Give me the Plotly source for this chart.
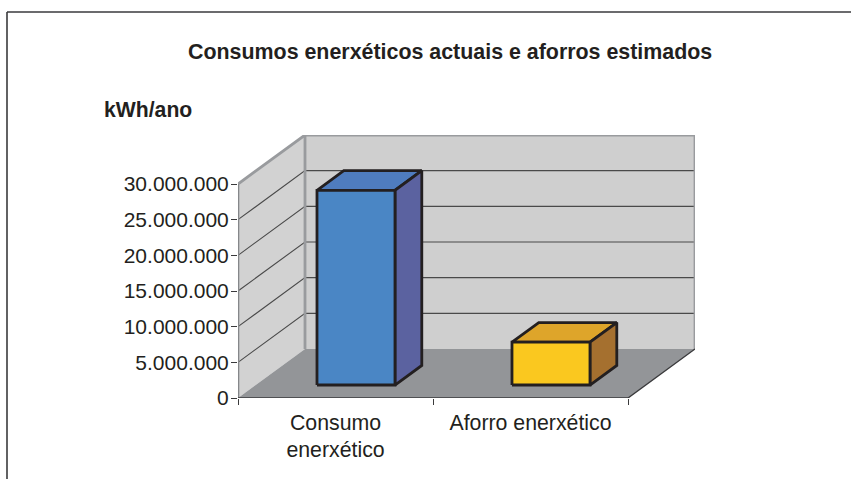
import plotly.graph_objects as go

# Data
categories = ["Consumo<br>enerxético", "Aforro enerxético"]
values = [27300000, 6000000]
y_ticks = [0, 5000000, 10000000, 15000000, 20000000, 25000000, 30000000]
y_tick_labels = ["0", "5.000.000", "10.000.000", "15.000.000", "20.000.000", "25.000.000", "30.000.000"]
title_text = "Consumos enerxéticos actuais e aforros estimados"
unit_text = "kWh/ano"
front_colors = ["#4a86c5", "#fac81f"]
top_colors = ["#4f7cbe", "#dea52a"]
side_colors = ["#5b62a0", "#a5702f"]

# Oblique projection (depth expressed in axis units)
W, H = 851, 479
L, T, R, B = 238, 135, 695, 398
n = len(categories)
y_max = y_ticks[-1]
DX = 67 / 195
DY = 49 / 214 * y_max
BAR_W = 78 / 195
D0, D1 = 0.265, 0.665
BAR_SHIFT = 0.014
EDGE = "#231f20"


def proj(x, y, d=0.0):
    return x + d * DX, y + d * DY


def poly(points, fill=None, line=None, width=1.0):
    xs = [p[0] for p in points]
    ys = [p[1] for p in points]
    return go.Scatter(
        x=xs, y=ys, mode="lines",
        fill="toself" if fill else None, fillcolor=fill,
        line=dict(color=line or "rgba(0,0,0,0)", width=width, simplify=False),
        cliponaxis=False, hoverinfo="skip", showlegend=False,
    )


fig = go.Figure()
# Walls and floor
fig.add_trace(poly([proj(0, 0, 1), proj(n, 0, 1), proj(n, y_max, 1), proj(0, y_max, 1), proj(0, 0, 1)], fill="#cfcfcf"))
fig.add_trace(poly([proj(0, 0, 0), proj(0, 0, 1), proj(0, y_max, 1), proj(0, y_max, 0), proj(0, 0, 0)], fill="#d2d2d2"))
fig.add_trace(poly([proj(0, 0, 0), proj(n, 0, 0), proj(n, 0, 1), proj(0, 0, 1), proj(0, 0, 0)], fill="#939598"))
# Grid lines
for t in y_ticks[1:-1]:
    fig.add_trace(poly([proj(0, t, 0), proj(0, t, 1), proj(n, t, 1)], line="#4a4a4a", width=1.1))
# Wall borders
fig.add_trace(poly([proj(0, 0, 0), proj(0, y_max, 0), proj(0, y_max, 1), proj(n, y_max, 1), proj(n, 0, 1)], line="#999b9e", width=2.8))
fig.add_trace(poly([proj(0, 0, 1), proj(0, y_max, 1)], line="#999b9e", width=2.8))
fig.add_trace(poly([proj(0, 0, 0), proj(0, y_max, 0)], line="#85878a", width=2))
# Floor edges
fig.add_trace(poly([proj(0, 0, 0), proj(n, 0, 0), proj(n, 0, 1)], line="#3a3a3c", width=1.4))
# Bars
for i, v in enumerate(values):
    x0 = i + 0.5 + BAR_SHIFT - BAR_W / 2
    x1 = x0 + BAR_W
    fig.add_trace(poly([proj(x0, v, D0), proj(x1, v, D0), proj(x1, v, D1), proj(x0, v, D1), proj(x0, v, D0)],
                       fill=top_colors[i], line=EDGE, width=2.8))
    fig.add_trace(poly([proj(x1, 0, D0), proj(x1, 0, D1), proj(x1, v, D1), proj(x1, v, D0), proj(x1, 0, D0)],
                       fill=side_colors[i], line=EDGE, width=2.8))
    fig.add_trace(poly([proj(x0, 0, D0), proj(x1, 0, D0), proj(x1, v, D0), proj(x0, v, D0), proj(x0, 0, D0)],
                       fill=front_colors[i], line=EDGE, width=2.8))

FONT = "Liberation Sans, Arial, sans-serif"


def px(x):
    return (x - L) / (R - L)


def py(y):
    return (B - y) / (B - T)


fig.update_layout(
    width=W, height=H, autosize=False,
    margin=dict(l=L, r=W - R, t=T, b=H - B, pad=0),
    paper_bgcolor="white", plot_bgcolor="white",
    showlegend=False, hovermode=False,
    font=dict(family=FONT, color=EDGE),
    xaxis=dict(
        range=[0, n + DX], showgrid=False, zeroline=False, showline=False,
        tickmode="array", tickvals=[i + 0.5 for i in range(n)], ticktext=categories,
        ticks="outside", ticklen=0, ticklabelstandoff=5,
        tickfont=dict(size=21.3, color=EDGE, family=FONT),
        minor=dict(tickmode="array", tickvals=list(range(n + 1)), ticks="outside",
                   ticklen=6, tickwidth=1, tickcolor="#3a3a3c", showgrid=False),
    ),
    yaxis=dict(
        range=[0, y_max + DY], showgrid=False, zeroline=False, showline=False,
        tickmode="array", tickvals=y_ticks, ticktext=y_tick_labels,
        ticks="outside", ticklen=6, tickwidth=1, tickcolor="#3a3a3c", ticklabelstandoff=-2,
        tickfont=dict(size=21, color=EDGE, family=FONT),
    ),
    shapes=[
        dict(type="line", xref="paper", yref="paper", x0=px(7), x1=px(851), y0=py(12), y1=py(12),
             line=dict(color="#3a3a3c", width=1.6)),
        dict(type="line", xref="paper", yref="paper", x0=px(7), x1=px(7), y0=py(12), y1=py(479),
             line=dict(color="#3a3a3c", width=1.6)),
    ],
    annotations=[
        dict(text="<b>%s</b>" % title_text, xref="paper", yref="paper", x=px(450), y=py(52),
             xanchor="center", yanchor="middle", showarrow=False,
             font=dict(size=21.4, color=EDGE, family=FONT)),
        dict(text="<b>%s</b>" % unit_text, xref="paper", yref="paper", x=px(102), y=py(109),
             xanchor="left", yanchor="middle", showarrow=False,
             font=dict(size=21.2, color=EDGE, family=FONT)),
    ],
)
fig.write_html("out.html", config=dict(displayModeBar=False),
               post_script="document.body.style.margin='0';document.documentElement.style.overflow='hidden';")
